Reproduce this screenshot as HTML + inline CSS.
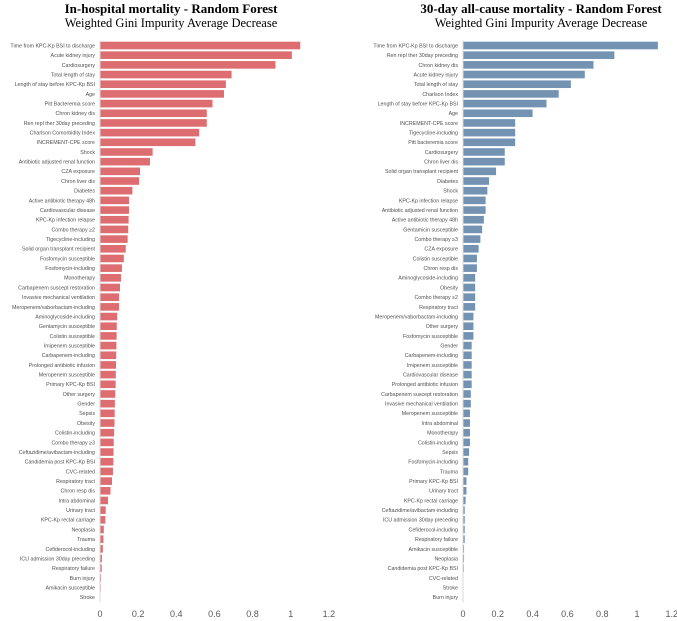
<!DOCTYPE html>
<html><head><meta charset="utf-8"><style>
body{margin:0;background:#fff;}
svg{display:block;}
.t{font-family:"Liberation Serif",serif;fill:#000;}
.lab{font-family:"Liberation Sans",sans-serif;font-size:5.3px;fill:#505050;}
.tick{font-family:"Liberation Sans",sans-serif;font-size:9px;fill:#595959;}
</style></head><body>
<svg id="chart" width="677" height="621" viewBox="0 0 677 621" xmlns="http://www.w3.org/2000/svg">
<text class="t" x="171" y="13" text-anchor="middle" font-size="13" font-weight="bold">In-hospital mortality - Random Forest</text>
<text class="t" x="171" y="27" text-anchor="middle" font-size="12.5">Weighted Gini Impurity Average Decrease</text>
<text class="t" x="541" y="13" text-anchor="middle" font-size="13" font-weight="bold">30-day all-cause mortality - Random Forest</text>
<text class="t" x="541" y="27" text-anchor="middle" font-size="12.5">Weighted Gini Impurity Average Decrease</text>
<g id="left"></g>
<g id="right"></g>
</svg>
<script>
const leftCategories = ["Time from KPC-Kp BSI to discharge","Acute kidney injury","Cardiosurgery","Total length of stay","Length of stay before KPC-Kp BSI","Age","Pitt Bacteremia score","Chron kidney dis","Ren repl ther 30day preceding","Charlson Comorbidity Index","INCREMENT-CPE score","Shock","Antibiotic adjusted renal function","CZA exposure","Chron liver dis","Diabetes","Active antibiotic therapy 48h","Cardiovascular disease","KPC-Kp infection relapse","Combo therapy ≥2","Tigecycline-including","Solid organ transplant recipient","Fosfomycin susceptible","Fosfomycin-including","Monotherapy","Carbapenem suscept restoration","Invasive mechanical ventilation","Meropenem/vaborbactam-including","Aminoglycoside-including","Gentamycin susceptible","Colistin susceptible","Imipenem susceptible","Carbapenem-including","Prolonged antibiotic infusion","Meropenem susceptible","Primary KPC-Kp BSI","Other surgery","Gender","Sepsis","Obesity","Colistin-including","Combo therapy ≥3","Ceftazidime/avibactam-including","Candidemia post KPC-Kp BSI","CVC-related","Respiratory tract","Chron resp dis","Intra abdominal","Urinary tract","KPC-Kp rectal carriage","Neoplasia","Trauma","Cefiderocol-including","ICU admission 30day preceding","Respiratory failure","Burn injury","Amikacin susceptible","Stroke"];
const leftValues = [1.05,1.006,0.92,0.69,0.66,0.65,0.59,0.56,0.56,0.52,0.50,0.276,0.262,0.21,0.205,0.17,0.152,0.152,0.15,0.148,0.145,0.135,0.125,0.115,0.11,0.105,0.10,0.10,0.09,0.088,0.087,0.086,0.085,0.084,0.083,0.082,0.08,0.078,0.077,0.076,0.074,0.072,0.071,0.07,0.068,0.063,0.055,0.042,0.03,0.028,0.02,0.018,0.015,0.01,0.009,0.005,0.004,0.0];
const rightCategories = ["Time from KPC-Kp BSI to discharge","Ren repl ther 30day preceding","Chron kidney dis","Acute kidney injury","Total length of stay","Charlson Index","Length of stay before KPC-Kp BSI","Age","INCREMENT-CPE score","Tigecycline-including","Pitt bacteremia score","Cardiosurgery","Chron liver dis","Solid organ transplant recipient","Diabetes","Shock","KPC-Kp infection relapse","Antibiotic adjusted renal function","Active antibiotic therapy 48h","Gentamicin susceptible","Combo therapy ≥3","CZA exposure","Colistin susceptible","Chron resp dis","Aminoglycoside-including","Obesity","Combo therapy ≥2","Respiratory tract","Meropenem/vaborbactam-including","Other surgery","Fosfomycin susceptible","Gender","Carbapenem-including","Imipenem susceptible","Cardiovascular disease","Prolonged antibiotic infusion","Carbapenem suscept restoration","Invasive mechanical ventilation","Meropenem susceptible","Intra abdominal","Monotherapy","Colistin-including","Sepsis","Fosfomycin-including","Trauma","Primary KPC-Kp BSI","Urinary tract","KPC-Kp rectal carriage","Ceftazidime/avibactam-including","ICU admission 30day preceding","Cefiderocol-including","Respiratory failure","Amikacin susceptible","Neoplasia","Candidemia post KPC-Kp BSI","CVC-related","Stroke","Burn injury"];
const rightValues = [1.12,0.87,0.75,0.70,0.62,0.55,0.48,0.40,0.30,0.30,0.30,0.24,0.24,0.19,0.15,0.14,0.13,0.13,0.12,0.11,0.10,0.09,0.08,0.08,0.07,0.07,0.07,0.07,0.06,0.06,0.06,0.05,0.05,0.05,0.05,0.05,0.045,0.045,0.04,0.04,0.04,0.04,0.035,0.03,0.03,0.02,0.02,0.015,0.01,0.01,0.01,0.01,0.006,0.006,0.005,0,0,0];
const tickValues = [0,0.2,0.4,0.6,0.8,1,1.2];
const tickLabels = ["0","0.2","0.4","0.6","0.8","1","1.2"];

const NS = "http://www.w3.org/2000/svg";
function drawPanel(g, cats, vals, x0, pxPerUnit, color, prefix){
  const y0 = 45.5, step = 9.68, bh = 7.6;
  const xs = v => x0 + v * pxPerUnit;
  const ys = i => y0 + i * step;
  const axis = document.createElementNS(NS,"line");
  axis.setAttribute("x1", x0); axis.setAttribute("x2", x0);
  axis.setAttribute("y1", ys(0) - 5); axis.setAttribute("y2", ys(cats.length - 1) + 5);
  axis.setAttribute("stroke", "#d9d9d9"); axis.setAttribute("stroke-width", "1");
  
  
  g.appendChild(axis);
  cats.forEach((c, i) => {
    const r = document.createElementNS(NS,"rect");
    r.setAttribute("x", x0 + 0.5); r.setAttribute("y", ys(i) - bh/2);
    r.setAttribute("width", Math.max(0, xs(vals[i]) - x0 - 0.5)); r.setAttribute("height", bh);
    r.setAttribute("fill", color);
    
    
    g.appendChild(r);
    const t = document.createElementNS(NS,"text");
    t.setAttribute("x", x0 - 5); t.setAttribute("y", ys(i) + 1.9);
    t.setAttribute("text-anchor", "end"); t.setAttribute("class", "lab");
    t.textContent = c;
    
    
    g.appendChild(t);
  });
  tickValues.forEach((v, i) => {
    const t = document.createElementNS(NS,"text");
    t.setAttribute("x", xs(v)); t.setAttribute("y", 617);
    t.setAttribute("text-anchor", "middle"); t.setAttribute("class", "tick");
    t.textContent = tickLabels[i];
    
    
    g.appendChild(t);
  });
}
drawPanel(document.getElementById("left"), leftCategories, leftValues, 100, 190.7, "#dd6d70", "left");
drawPanel(document.getElementById("right"), rightCategories, rightValues, 463, 174, "#7493b3", "right");
</script>
</body></html>
